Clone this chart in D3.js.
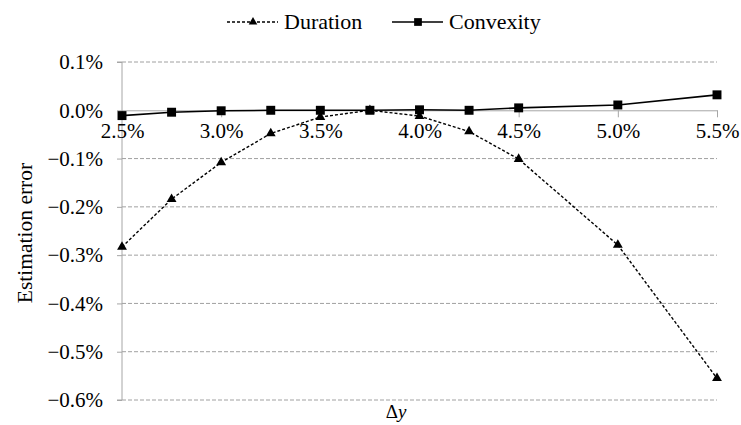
<!DOCTYPE html>
<html>
<head>
<meta charset="utf-8">
<script src="https://cdn.jsdelivr.net/npm/d3@7"></script>
<style>
  html, body { margin: 0; padding: 0; background: #fff; }
  svg text { font-family: "Liberation Serif", "Times New Roman", Times, "DejaVu Serif", serif !important; }
</style>
</head>
<body>
<svg id="chart" width="741" height="425"></svg>
<script>
// Change in yield (%), and the estimation error (%) of each approximation
const dy = [2.5, 2.75, 3.0, 3.25, 3.5, 3.75, 4.0, 4.25, 4.5, 5.0, 5.5];
const durationErr = [-0.283, -0.184, -0.108, -0.048, -0.014, 0.000, -0.012, -0.044, -0.101, -0.279, -0.555];
const convexityErr = [-0.011, -0.004, -0.001, 0.000, 0.000, 0.000, 0.001, 0.000, 0.005, 0.011, 0.032];
const xTicks = [2.5, 3.0, 3.5, 4.0, 4.5, 5.0, 5.5];
const yTicks = [0.1, 0.0, -0.1, -0.2, -0.3, -0.4, -0.5, -0.6];
const seriesNames = ["Duration", "Convexity"];

const svg = d3.select("#chart");
const x = d3.scaleLinear().domain([2.5, 5.5]).range([122, 717]);
const y = d3.scaleLinear().domain([0.1, -0.6]).range([62, 400]);

const gridColor = "#a0a0a0";
const axisColor = "#a6a6a6";

// horizontal gridlines
svg.append("g")
  .selectAll("line")
  .data(yTicks.filter(v => v !== 0))
  .join("line")
  .attr("x1", x(2.5)).attr("x2", x(5.5))
  .attr("y1", d => y(d)).attr("y2", d => y(d))
  .attr("stroke", gridColor)
  .attr("stroke-width", 1)
  .attr("stroke-dasharray", "4,2");

// y axis with left ticks
const yAxis = d3.axisLeft(y)
  .tickValues(yTicks)
  .tickFormat(d => d3.format(".1f")(d) + "%")
  .tickSize(5)
  .tickPadding(14);
const gy = svg.append("g").attr("transform", `translate(${x(2.5)},0)`).call(yAxis);
gy.attr("font-family", null).attr("font-size", null);
gy.select(".domain").attr("stroke", axisColor).attr("d", `M-5,${y(0.1)}H0V${y(-0.6)}H-5`);
gy.selectAll(".tick line").attr("stroke", axisColor);
gy.selectAll(".tick text")
  .attr("fill", "#000")
  .style("font-size", "21px");

// x axis crossing at zero, ticks pointing down, labels just below
const xAxis = d3.axisBottom(x)
  .tickValues(xTicks)
  .tickFormat(d => d3.format(".1f")(d) + "%")
  .tickSize(7)
  .tickSizeOuter(0)
  .tickPadding(6);
const gx = svg.append("g").attr("transform", `translate(0,${y(0)})`).call(xAxis);
gx.attr("font-family", null).attr("font-size", null);
gx.select(".domain").attr("stroke", axisColor);
gx.selectAll(".tick line").attr("stroke", axisColor);
gx.selectAll(".tick text")
  .attr("fill", "#000")
  .style("font-size", "21px");

// series lines
const line = d3.line().x(d => x(d[0])).y(d => y(d[1]));
const durPts = dy.map((v, i) => [v, durationErr[i]]);
const conPts = dy.map((v, i) => [v, convexityErr[i]]);

svg.append("path")
  .datum(conPts)
  .attr("d", line)
  .attr("fill", "none")
  .attr("stroke", "#000")
  .attr("stroke-width", 1.6);

svg.append("path")
  .datum(durPts)
  .attr("d", line)
  .attr("fill", "none")
  .attr("stroke", "#000")
  .attr("stroke-width", 1.4)
  .attr("stroke-dasharray", "3,2");

// markers
const tri = d3.symbol().type(d3.symbolTriangle).size(42);
const sq = d3.symbol().type(d3.symbolSquare).size(80);

svg.append("g").selectAll("path")
  .data(conPts)
  .join("path")
  .attr("d", sq)
  .attr("transform", d => `translate(${x(d[0])},${y(d[1])})`)
  .attr("fill", "#000");

svg.append("g").selectAll("path")
  .data(durPts)
  .join("path")
  .attr("d", tri)
  .attr("transform", d => `translate(${x(d[0])},${y(d[1])})`)
  .attr("fill", "#000");

// axis titles
svg.append("text")
  .attr("x", 396).attr("y", 418)
  .attr("text-anchor", "middle")
  .style("font-size", "19px")
  .html('Δ<tspan font-style="italic">y</tspan>');

svg.append("text")
  .attr("transform", "translate(32,233) rotate(-90)")
  .attr("text-anchor", "middle")
  .style("font-size", "21.5px")
  .text("Estimation error");

// legend
const legend = svg.append("g");
const lg1 = legend.append("g");
lg1.append("line").attr("x1", 227).attr("x2", 278).attr("y1", 22).attr("y2", 22)
  .attr("stroke", "#000").attr("stroke-width", 1.3).attr("stroke-dasharray", "3,2");
lg1.append("path").attr("d", d3.symbol().type(d3.symbolTriangle).size(32))
  .attr("transform", "translate(253,22)");
lg1.append("text").attr("x", 284).attr("y", 29).style("font-size", "22px").text(seriesNames[0]);

const lg2 = legend.append("g");
lg2.append("line").attr("x1", 392).attr("x2", 443).attr("y1", 22).attr("y2", 22)
  .attr("stroke", "#000").attr("stroke-width", 1.6);
lg2.append("path").attr("d", d3.symbol().type(d3.symbolSquare).size(60))
  .attr("transform", "translate(418,22)");
lg2.append("text").attr("x", 449).attr("y", 29).style("font-size", "22px").text(seriesNames[1]);
</script>
</body>
</html>
